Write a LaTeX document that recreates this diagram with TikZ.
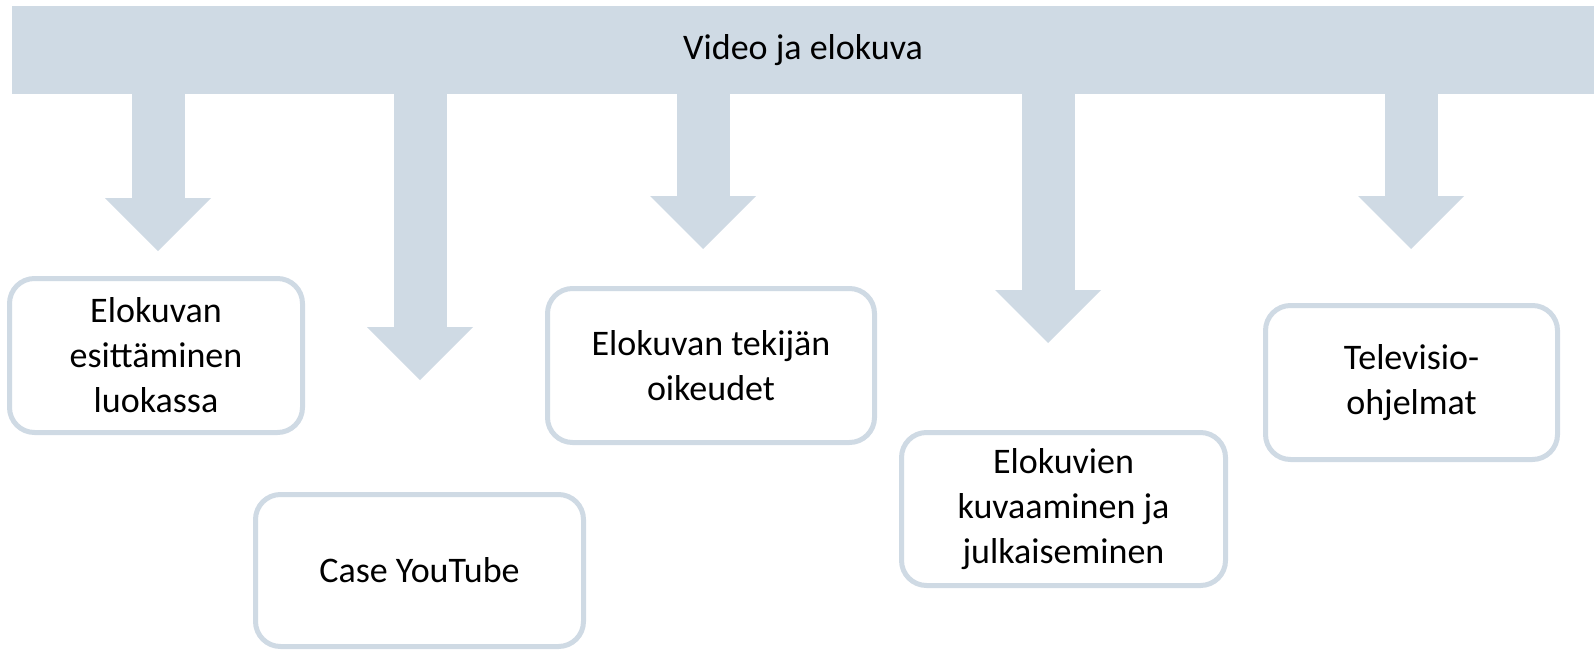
\documentclass[tikz,border=0pt]{standalone}
\usepackage{fontspec}
\setmainfont{Carlito}
\definecolor{paleblue}{RGB}{207,218,228}
\tikzset{box/.style={draw=paleblue,line width=5pt,rounded corners=25pt,fill=white,align=center,inner sep=0pt}}

\begin{document}
\begin{tikzpicture}[x=1pt,y=-1pt,font=\fontsize{36}{45}\selectfont,
        shaft/.style={draw=paleblue,line width=53pt},
        head/.style={fill=paleblue}]
    \useasboundingbox (0,0) rectangle (1594,651);
    \node[fill=paleblue,minimum width=1582pt,minimum height=88pt] (top) at (803,50) {Video ja elokuva};

    \node[box,minimum width=293pt,minimum height=154pt] (esitys) at (156,355.5) {Elokuvan\\esittäminen\\luokassa};
    \node[box,minimum width=328pt,minimum height=152pt] (youtube) at (419.5,570.5) {Case YouTube};
    \node[box,minimum width=327pt,minimum height=154pt] (oikeudet) at (711,365.5) {Elokuvan tekijän\\oikeudet};
    \node[box,minimum width=324pt,minimum height=153pt] (kuvaus) at (1063.5,509) {Elokuvien\\kuvaaminen ja\\julkaiseminen};
    \node[box,minimum width=292pt,minimum height=154pt] (tv) at (1411.5,382.5) {Televisio-\\ohjelmat};

    \foreach \tip/\x/\y in {t1/158/251,t2/420/380,t3/703/249,t4/1048/343,t5/1411/249}{
        \coordinate (\tip) at (\x,\y);
        \draw[shaft] ([yshift=3pt]top.south -| \tip) -- ([yshift=52pt]\tip);
        \fill[head] (\tip) -- ++(-53,-53) -- ++(106,0) -- cycle;
    }
\end{tikzpicture}
\end{document}
